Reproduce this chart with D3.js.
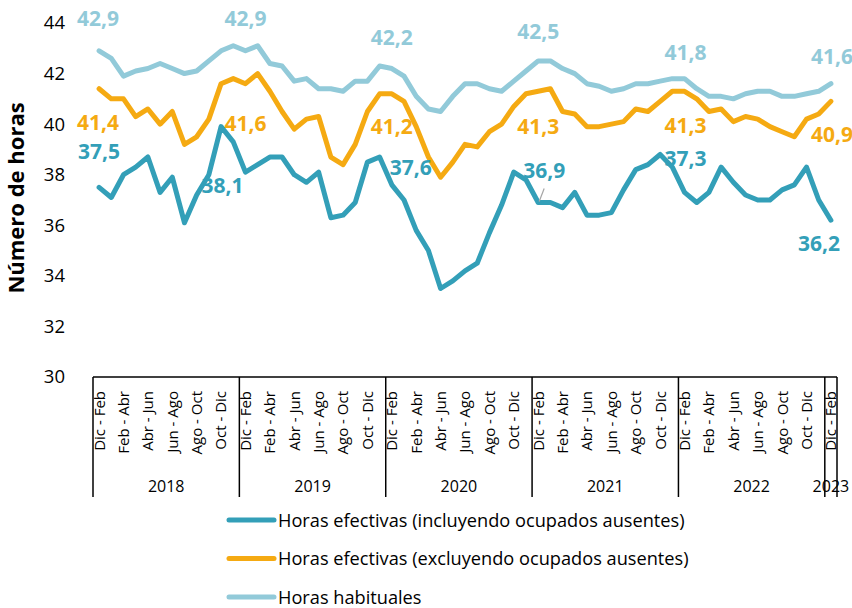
<!DOCTYPE html>
<html>
<head>
<meta charset="utf-8">
<script src="https://cdn.jsdelivr.net/npm/d3@7"></script>
<style>
  body { margin: 0; background: #fff; overflow: hidden; }
  svg { display: block; }
  text { font-family: "Open Sans", sans-serif; }
</style>
</head>
<body>
<script>
// periods (rolling quarters), one per month, Dic-Feb 2018 .. Dic-Feb 2023
var periodNames = ["Dic - Feb", "Ene - Mar", "Feb - Abr", "Mar - May", "Abr - Jun", "May - Jul",
                   "Jun - Ago", "Jul - Sep", "Ago - Oct", "Sep - Nov", "Oct - Dic", "Nov - Ene"];
var years = ["2018", "2019", "2020", "2021", "2022", "2023"];
var periodsPerYear = [12, 12, 12, 12, 12, 1];

var seriesNames = [
  "Horas efectivas (incluyendo ocupados ausentes)",
  "Horas efectivas (excluyendo ocupados ausentes)",
  "Horas habituales"
];

var incluyendo = [
  37.5, 37.1, 38.0, 38.3, 38.7, 37.3, 37.9, 36.1, 37.2, 38.0, 39.9, 39.3,
  38.1, 38.4, 38.7, 38.7, 38.0, 37.7, 38.1, 36.3, 36.4, 36.9, 38.5, 38.7,
  37.6, 37.0, 35.8, 35.0, 33.5, 33.8, 34.2, 34.5, 35.7, 36.8, 38.1, 37.8,
  36.9, 36.9, 36.7, 37.3, 36.4, 36.4, 36.5, 37.4, 38.2, 38.4, 38.8, 38.3,
  37.3, 36.9, 37.3, 38.3, 37.7, 37.2, 37.0, 37.0, 37.4, 37.6, 38.3, 37.0,
  36.2
];
var excluyendo = [
  41.4, 41.0, 41.0, 40.3, 40.6, 40.0, 40.5, 39.2, 39.5, 40.2, 41.6, 41.8,
  41.6, 42.0, 41.3, 40.5, 39.8, 40.2, 40.3, 38.7, 38.4, 39.2, 40.5, 41.2,
  41.2, 40.9, 39.9, 38.7, 37.9, 38.5, 39.2, 39.1, 39.7, 40.0, 40.7, 41.2,
  41.3, 41.4, 40.5, 40.4, 39.9, 39.9, 40.0, 40.1, 40.6, 40.5, 40.9, 41.3,
  41.3, 41.0, 40.5, 40.6, 40.1, 40.3, 40.2, 39.9, 39.7, 39.5, 40.2, 40.4,
  40.9
];
var habituales = [
  42.9, 42.6, 41.9, 42.1, 42.2, 42.4, 42.2, 42.0, 42.1, 42.5, 42.9, 43.1,
  42.9, 43.1, 42.4, 42.3, 41.7, 41.8, 41.4, 41.4, 41.3, 41.7, 41.7, 42.3,
  42.2, 41.9, 41.1, 40.6, 40.5, 41.1, 41.6, 41.6, 41.4, 41.3, 41.7, 42.1,
  42.5, 42.5, 42.2, 42.0, 41.6, 41.5, 41.3, 41.4, 41.6, 41.6, 41.7, 41.8,
  41.8, 41.4, 41.1, 41.1, 41.0, 41.2, 41.3, 41.3, 41.1, 41.1, 41.2, 41.3,
  41.6
];

var yTicks = [30, 32, 34, 36, 38, 40, 42, 44];

// data labels are shown on every Dic - Feb period
var labelIndex = [0, 12, 24, 36, 48, 60];

var colors = ["#339fb8", "#f5aa12", "#92cad9"];

// build category list
var categories = [];
years.forEach(function(y, yi) {
  for (var k = 0; k < periodsPerYear[yi]; k++) {
    categories.push({ period: periodNames[k], year: y, k: k });
  }
});

var w = 852;
var h = 608;
var plotLeft = 93, plotRight = 837;
var plotTop = 23, plotBottom = 377;

var svg = d3.select("body").append("svg")
  .attr("width", w)
  .attr("height", h);

var xScale = d3.scaleBand()
  .domain(d3.range(categories.length))
  .range([plotLeft, plotRight])
  .padding(0);

var yScale = d3.scaleLinear()
  .domain([30, 44])
  .range([plotBottom, plotTop]);

function cx(i) { return xScale(i) + xScale.bandwidth() / 2; }

// y axis (labels only, no line)
var yAxis = svg.append("g")
  .attr("transform", "translate(" + plotLeft + ",0)")
  .call(d3.axisLeft(yScale).tickValues(yTicks).tickSize(0).tickPadding(28));
yAxis.select(".domain").remove();
yAxis.selectAll("text")
  .attr("font-family", "Open Sans, sans-serif")
  .attr("font-size", 18.5)
  .attr("fill", "#000");

svg.append("text")
  .attr("transform", "translate(24,198) rotate(-90)")
  .attr("text-anchor", "middle")
  .attr("font-size", 22)
  .attr("font-weight", "bold")
  .attr("fill", "#000")
  .text("Número de horas");

// x axis: two level category axis
svg.append("line")
  .attr("x1", plotLeft).attr("x2", plotRight)
  .attr("y1", plotBottom).attr("y2", plotBottom)
  .attr("stroke", "#000").attr("stroke-width", 1.5);

svg.append("g").selectAll("text")
  .data(categories.filter(function(d, i) { return i % 2 === 0; }))
  .enter()
  .append("text")
  .attr("transform", function(d) {
    var i = categories.indexOf(d);
    return "translate(" + cx(i) + "," + (plotBottom + 14) + ") rotate(-90)";
  })
  .attr("text-anchor", "end")
  .attr("dy", "0.36em")
  .attr("font-size", 15)
  .attr("fill", "#000")
  .text(function(d) { return d.period; });

var groupStart = 0;
var bounds = [plotLeft];
var yearPos = [];
years.forEach(function(y, yi) {
  var a = xScale(groupStart);
  groupStart += periodsPerYear[yi];
  var b = groupStart < categories.length ? xScale(groupStart) : plotRight;
  bounds.push(b);
  yearPos.push((a + b) / 2);
});

svg.append("g").selectAll("line")
  .data(bounds)
  .enter()
  .append("line")
  .attr("x1", function(d) { return d; })
  .attr("x2", function(d) { return d; })
  .attr("y1", plotBottom)
  .attr("y2", plotBottom + 120)
  .attr("stroke", "#000")
  .attr("stroke-width", 1.5);

svg.append("g").selectAll("text")
  .data(years)
  .enter()
  .append("text")
  .attr("x", function(d, i) { return yearPos[i]; })
  .attr("y", plotBottom + 115)
  .attr("text-anchor", "middle")
  .attr("font-size", 16)
  .attr("fill", "#000")
  .text(function(d) { return d; });

// lines
var seriesData = [incluyendo, excluyendo, habituales];
var line = d3.line()
  .x(function(d, i) { return cx(i); })
  .y(function(d) { return yScale(d); });

// draw light series first so the darker ones sit on top
[2, 1, 0].forEach(function(s) {
  svg.append("path")
    .datum(seriesData[s])
    .attr("d", line)
    .attr("fill", "none")
    .attr("stroke", colors[s])
    .attr("stroke-width", 5)
    .attr("stroke-linejoin", "round")
    .attr("stroke-linecap", "round");
});

// data labels, offsets from the point
var labelOffsets = [
  [[0, -28], [-23, 21], [19, -10], [6, -25], [1, -26], [-12, 31]],
  [[-1, 41], [0, 47], [0, 40], [0, 43], [1, 42], [1, 41]],
  [[-1, -25], [0, -25], [0, -24], [0, -22], [1, -19], [1, -20]]
];

// leader line for the 36,9 label
svg.append("line")
  .attr("x1", cx(36) + 1).attr("y1", yScale(incluyendo[36]) - 1)
  .attr("x2", cx(36) + 6).attr("y2", yScale(incluyendo[36]) - 14)
  .attr("stroke", "#a6a6a6")
  .attr("stroke-width", 1.2);

seriesData.forEach(function(values, s) {
  svg.append("g").selectAll("text")
    .data(labelIndex)
    .enter()
    .append("text")
    .attr("x", function(d, j) { return cx(d) + labelOffsets[s][j][0]; })
    .attr("y", function(d, j) { return yScale(values[d]) + labelOffsets[s][j][1]; })
    .attr("text-anchor", "middle")
    .attr("font-size", 21)
    .attr("font-weight", "bold")
    .attr("fill", colors[s])
    .text(function(d) { return d3.format(".1f")(values[d]).replace(".", ","); });
});

// legend
var legend = svg.append("g").selectAll("g")
  .data(seriesNames)
  .enter()
  .append("g")
  .attr("transform", function(d, i) { return "translate(229," + (520 + i * 38.5) + ")"; });

legend.append("line")
  .attr("x1", 0).attr("x2", 45)
  .attr("y1", 0).attr("y2", 0)
  .attr("stroke", function(d, i) { return colors[i]; })
  .attr("stroke-width", 5)
  .attr("stroke-linecap", "round");

legend.append("text")
  .attr("x", 49)
  .attr("dy", "0.36em")
  .attr("font-size", 18.2)
  .attr("fill", "#000")
  .text(function(d) { return d; });
</script>
</body>
</html>
